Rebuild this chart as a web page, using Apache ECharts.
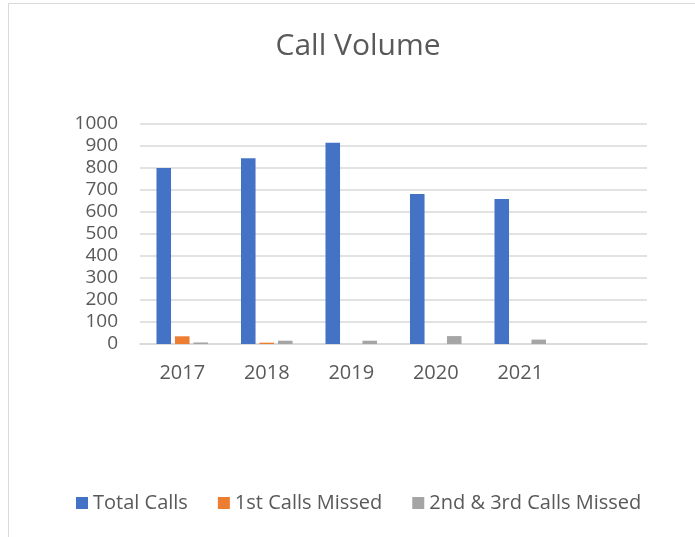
<!DOCTYPE html>
<html>
<head>
<meta charset="utf-8">
<script src="https://cdn.jsdelivr.net/npm/echarts@6/dist/echarts.min.js"></script>
<style>html,body{margin:0;padding:0;background:#fff}#c{width:695px;height:537px}</style>
</head>
<body>
<div id="c"></div>
<script>
const categories = ['2017', '2018', '2019', '2020', '2021', ''];
const totalCalls = [800, 844, 915, 682, 659, null];
const firstMissed = [35, 6, 0, 0, 0, null];
const secondThirdMissed = [7, 15, 15, 36, 20, null];
const yTicks = [0, 100, 200, 300, 400, 500, 600, 700, 800, 900, 1000];

const font = 'Open Sans';
const chart = echarts.init(document.getElementById('c'));
chart.setOption({
  animation: false,
  graphic: [{
    type: 'rect', shape: { x: 8.5, y: 3.5, width: 700, height: 600 },
    style: { fill: 'none', stroke: '#d9d9d9', lineWidth: 1 }, silent: true
  }],
  title: {
    text: 'Call Volume', left: 353, top: 26, textAlign: 'center',
    textStyle: { fontFamily: font, fontSize: 30, fontWeight: 'normal', color: '#595959' }
  },
  legend: {
    top: 488, left: 71, itemWidth: 12, itemHeight: 12, itemGap: 30,
    icon: 'rect',
    textStyle: { fontFamily: font, fontSize: 20, color: '#595959' }
  },
  grid: { left: 140, right: 48, top: 124, bottom: 193, containLabel: false },
  xAxis: {
    type: 'category', data: categories,
    axisLine: { lineStyle: { color: '#d9d9d9', width: 1.5 } },
    axisTick: { show: false },
    axisLabel: { fontFamily: font, fontSize: 20, color: '#595959', margin: 19 }
  },
  yAxis: {
    type: 'value', min: yTicks[0], max: yTicks[yTicks.length - 1], interval: 100,
    axisLine: { show: false }, axisTick: { show: false },
    splitLine: { lineStyle: { color: '#d9d9d9', width: 1.5 } },
    axisLabel: { fontFamily: font, fontSize: 19, color: '#595959', margin: 22, formatter: v => String(v) }
  },
  series: [
    { name: 'Total Calls', type: 'bar', data: totalCalls, barGap: '27%', barCategoryGap: '39%',
      itemStyle: { color: '#4472c4' } },
    { name: '1st Calls Missed', type: 'bar', data: firstMissed, itemStyle: { color: '#ed7d31' } },
    { name: '2nd & 3rd Calls Missed', type: 'bar', data: secondThirdMissed, itemStyle: { color: '#a5a5a5' } }
  ]
});
</script>
</body>
</html>
